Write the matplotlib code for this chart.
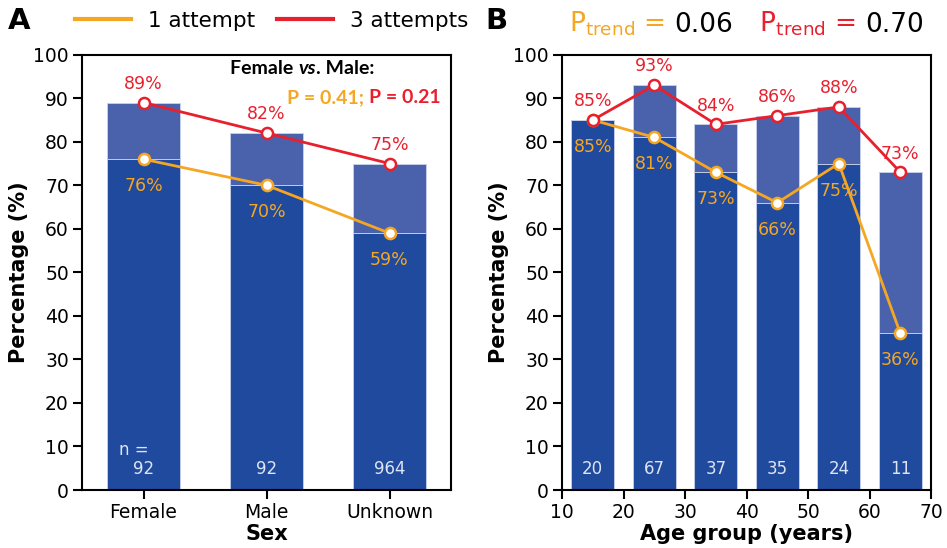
import matplotlib.pyplot as plt
from matplotlib.offsetbox import TextArea, HPacker, AnchoredOffsetbox
from matplotlib.lines import Line2D
import numpy as np

# Datos panel A (sexo)
sexos = ['Female', 'Male', 'Unknown']
sexo_1 = [76, 70, 59]
sexo_3 = [89, 82, 75]
sexo_n = [92, 92, 964]

# Datos panel B (grupo de edad)
edades = [15, 25, 35, 45, 55, 65]
edad_1 = [85, 81, 73, 66, 75, 36]
edad_3 = [85, 93, 84, 86, 88, 73]
edad_n = [20, 67, 37, 35, 24, 11]

C_OSCURO = '#1f4a9e'
C_CLARO = '#4a62ab'
C_NAR = '#f5a623'
C_ROJO = '#e8202e'
C_N = '#dde4f2'

plt.rcParams['font.family'] = 'DejaVu Sans'

fig = plt.figure(figsize=(9.47, 5.48), dpi=100)
axA = fig.add_axes([0.0866, 0.1058, 0.3897, 0.7944])
axB = fig.add_axes([0.5935, 0.1058, 0.3897, 0.7944])


def barras(ax, x, v1, v3, n, ancho):
    v1 = np.array(v1)
    v3 = np.array(v3)
    ax.bar(x, v1, width=ancho, color=C_OSCURO, edgecolor='#c9d2ea', linewidth=0.6, zorder=1)
    ax.bar(x, v3 - v1, bottom=v1, width=ancho, color=C_CLARO, edgecolor='#c9d2ea',
           linewidth=0.6, zorder=1)
    ax.plot(x, v1, '-o', color=C_NAR, lw=2, ms=8, mfc='white', mec=C_NAR, mew=1.8, zorder=3)
    ax.plot(x, v3, '-o', color=C_ROJO, lw=2, ms=8, mfc='white', mec=C_ROJO, mew=1.8, zorder=3)
    for xi, a, b, ni in zip(x, v1, v3, n):
        ax.annotate(f'{b}%', (xi, b), xytext=(0, 7), textcoords='offset points',
                    ha='center', va='bottom', color=C_ROJO, fontsize=12.5)
        ax.annotate(f'{a}%', (xi, a), xytext=(0, -13), textcoords='offset points',
                    ha='center', va='top', color=C_NAR, fontsize=12.5)
        ax.text(xi, 2.8, str(ni), ha='center', va='bottom', color=C_N, fontsize=12)


def estilo(ax):
    ax.set_ylim(0, 100)
    ax.set_yticks(range(0, 101, 10))
    ax.tick_params(labelsize=13.5, width=1.5, length=6.5, pad=3)
    for s in ax.spines.values():
        s.set_linewidth(1.5)
    ax.set_ylabel('Percentage (%)', fontsize=15, fontweight='bold', labelpad=3)


# Panel A
xA = np.arange(len(sexos))
barras(axA, xA, sexo_1, sexo_3, sexo_n, 0.6)
axA.text(-0.2, 7.2, 'n =', ha='left', va='bottom', color=C_N, fontsize=12)
axA.set_xticks(xA)
axA.set_xticklabels(sexos)
axA.set_xlim(-0.5, 2.5)
estilo(axA)
axA.set_xlabel('Sex', fontsize=15, fontweight='bold', labelpad=1)

fuente = dict(family='Lato', fontweight='bold', fontsize=14)
linea1 = HPacker(children=[
    TextArea('Female ', textprops=dict(color='black', **fuente)),
    TextArea('vs', textprops=dict(color='black', fontstyle='italic', **fuente)),
    TextArea('. Male:', textprops=dict(color='black', **fuente))], pad=0, sep=0)
axA.add_artist(AnchoredOffsetbox(loc='center', child=linea1, frameon=False,
                                 bbox_to_anchor=(0.597, 0.968), bbox_transform=axA.transAxes))
linea2 = HPacker(children=[
    TextArea('P = 0.41;', textprops=dict(color=C_NAR, **fuente)),
    TextArea('P = 0.21', textprops=dict(color=C_ROJO, **fuente))], pad=0, sep=4)
axA.add_artist(AnchoredOffsetbox(loc='center', child=linea2, frameon=False,
                                 bbox_to_anchor=(0.763, 0.902), bbox_transform=axA.transAxes))

# Panel B
barras(axB, np.array(edades), edad_1, edad_3, edad_n, 7)
axB.set_xlim(10, 70)
axB.set_xticks(range(10, 71, 10))
estilo(axB)
axB.set_xlabel('Age group (years)', fontsize=15, fontweight='bold', labelpad=1)

ft = dict(fontsize=19)
titulo = HPacker(children=[
    TextArea(r'$\mathregular{P_{trend}}$ =', textprops=dict(color=C_NAR, **ft)),
    TextArea('0.06', textprops=dict(color='black', **ft)),
    TextArea(r'  $\mathregular{P_{trend}}$ =', textprops=dict(color=C_ROJO, **ft)),
    TextArea('0.70', textprops=dict(color='black', **ft))], pad=0, sep=7)
axB.add_artist(AnchoredOffsetbox(loc='center', child=titulo, frameon=False,
                                 bbox_to_anchor=(0.5, 1.07), bbox_transform=axB.transAxes))

# Leyenda y letras de panel
manejadores = [Line2D([], [], color=C_NAR, lw=3), Line2D([], [], color=C_ROJO, lw=3)]
fig.legend(manejadores, ['1 attempt', '3 attempts'], loc='center', ncol=2, frameon=False,
           fontsize=15.5, bbox_to_anchor=(0.287, 0.962), handlelength=2.6, columnspacing=1.0)
fig.text(0.008, 0.962, 'A', fontsize=21, fontweight='bold', va='center')
fig.text(0.513, 0.962, 'B', fontsize=21, fontweight='bold', va='center')

plt.savefig('out.png', dpi=100)
